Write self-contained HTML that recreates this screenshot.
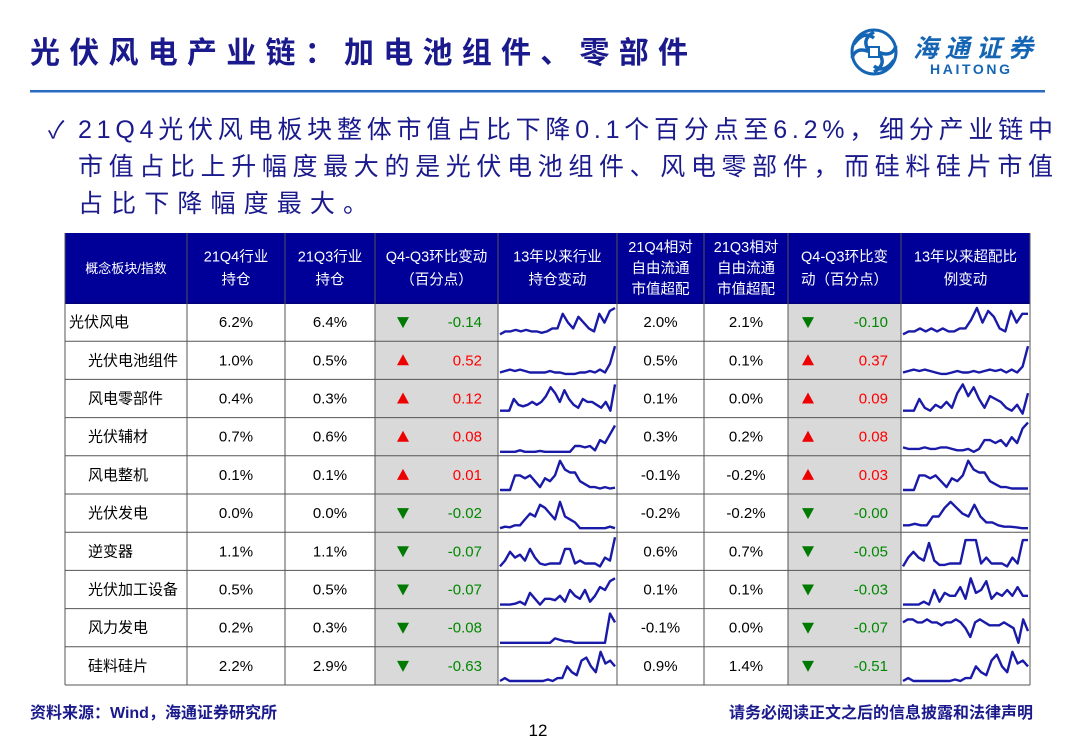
<!DOCTYPE html>
<html><head><meta charset="utf-8"><style>
body{margin:0;background:#fff;}
svg{display:block;font-family:"Liberation Sans","Noto Sans CJK SC",sans-serif;}
</style></head><body>
<svg id="s" width="1080" height="746" viewBox="0 0 1080 746">
<text x="30" y="63" font-size="30" font-weight="bold" fill="#1a1a8c" textLength="658">光伏风电产业链：加电池组件、零部件</text>
<g>
<circle cx="874" cy="52" r="22" fill="none" stroke="#1565b5" stroke-width="3"/>
<path d="M874 32 q-14 8 -4 20 q-14 -6 -18 6 M874 72 q14 -8 4 -20 q14 6 18 -6 M854 44 q10 -14 20 -6 M894 60 q-10 14 -20 6" fill="none" stroke="#1565b5" stroke-width="3.5"/>
<rect x="869" y="47" width="10" height="10" fill="#fff" stroke="#1565b5" stroke-width="2"/>
<text x="913" y="57" font-size="25" font-style="italic" font-weight="bold" fill="#1565b5" textLength="120">海通证券</text>
<text x="930" y="74" font-size="14" font-weight="bold" fill="#1565b5" textLength="80">HAITONG</text>
</g>
<rect x="30" y="90" width="1015" height="2.5" fill="#2a6ac0"/>
<g font-size="25" fill="#1a1a8c">
<text x="48" y="138" font-size="24">✓</text>
<text x="78" y="138" textLength="975">21Q4光伏风电板块整体市值占比下降0.1个百分点至6.2%，细分产业链中</text>
<text x="78" y="175" textLength="975">市值占比上升幅度最大的是光伏电池组件、风电零部件，而硅料硅片市值</text>
<text x="78" y="212" textLength="290">占比下降幅度最大。</text>
</g>
<g id="tbl"></g>
<text x="30" y="718" font-size="16" font-weight="bold" fill="#1a1a8c">资料来源：Wind，海通证券研究所</text>
<text x="538" y="736" font-size="17" text-anchor="middle" fill="#000">12</text>
<text x="1033" y="718" font-size="16" font-weight="bold" fill="#1a1a8c" text-anchor="end">请务必阅读正文之后的信息披露和法律声明</text>
</svg>
<script>
const headers=[["概念板块/指数"],["21Q4行业","持仓"],["21Q3行业","持仓"],["Q4-Q3环比变动","（百分点）"],["13年以来行业","持仓变动"],["21Q4相对","自由流通","市值超配"],["21Q3相对","自由流通","市值超配"],["Q4-Q3环比变","动（百分点）"],["13年以来超配比","例变动"]];
const names=["光伏风电","光伏电池组件","风电零部件","光伏辅材","风电整机","光伏发电","逆变器","光伏加工设备","风力发电","硅料硅片"];
const q4Hold=["6.2%","1.0%","0.4%","0.7%","0.1%","0.0%","1.1%","0.5%","0.2%","2.2%"];
const q3Hold=["6.4%","0.5%","0.3%","0.6%","0.1%","0.0%","1.1%","0.5%","0.3%","2.9%"];
const holdChg=[-0.14,0.52,0.12,0.08,0.01,-0.02,-0.07,-0.07,-0.08,-0.63];
const q4Over=["2.0%","0.5%","0.1%","0.3%","-0.1%","-0.2%","0.6%","0.1%","-0.1%","0.9%"];
const q3Over=["2.1%","0.1%","0.0%","0.2%","-0.2%","-0.2%","0.7%","0.1%","0.0%","1.4%"];
const overChg=["-0.10","0.37","0.09","0.08","0.03","-0.00","-0.05","-0.03","-0.07","-0.51"];
const holdSpark=[
[1,2,2,2.5,2,2.5,2,2,1.5,2,3,3,8,5,3,7,5,3,2,8,5,9,10],
[1,1.5,2,1.5,2,1.5,1,1,1,1,1.5,1,1,0.5,0.5,0.5,1,1,1.5,1,2,1,4,10],
[1,1,1,5,3,2.5,3,4,3,4,6,9,7,4,8,5,3,2,5,4,4,3,2,4,1,10],
[0,0,0,0,0.5,0,0,0,0.3,0,0,0,0,0,0,2,2,1.5,2,0.5,4,3,6,9],
[0,0,0,5,5,4,5,3,1,4,3,5,10,7,6,6,3,2,1,1,0.5,1,0.5,0.8],
[0,0.5,0.3,1,1,3,5,4,8,7,5,3,9,4,3,2,0,0,0,0,0,0,0.5,0],
[0,2,5,3,4,2,6,3,1,0.5,1,1,1,6,6,1,2,1,1,1,0,3,2,10],
[0,0,0,0.3,1,0,4,2,0,2,2,1.5,3,1,5,3,2,5,1,3,6,5,8,9],
[0,0,0,0,0,0,0,0,0,0,0,1.5,1,0.5,0.5,0,0,0,0,0,0,0,10,7],
[0,1,0,0,0,0,0,0,0,0,0.5,0,1,1,5,3,2,7,8,5,3,10,6,7,5]];
const overSpark=[
[1,2,2,3,2,3,2,3,2,2,3,3,6,10,5,9,7,3,2,9,5,8,8],
[1,1.5,2,1.5,2,1.5,1,0.5,0.5,1,1.5,1,1,1.5,1,1.5,2,1.5,2,1,2,1,3,10],
[1,1,1,5,2,1,3,2,4,2,7,10,6,9,5,2,6,5,4,2,1,3,0,7],
[1.5,1,1,1,1.5,1,1,1.5,1.5,1,0.5,0.5,1,0,1,4,4,3,4,2,5,3,8,10],
[0,0,0,5,5,4,5,3,1,4,3,5,10,7,6,6,3,2,1,1,0.5,0.5,0.5,0.5],
[1,1,1.5,1,1,4,4,7,9,7,5,4,8,4,2,2,1,0.5,0.5,0.3,0,0],
[0,3,5,3,2,8,2,0.5,0.5,1,1,1,9,9,9,1,3,1,1,1,0,3,1,9,9],
[0,0,0,0,1,0,5,1,4,3,3,6,2,9,4,5,8,2,4,3,5,3,6,3,3],
[7,8,8,7,7,8,7,7,6,7,7,8,7,5,2,7,8,7,6,6,6,7,6,5,0,8,4],
[0,1,0,0,0,0,0,0,0,0,0.5,0,1,1,5,3,2,7,9,5,3,10,6,7,5]];

const NS="http://www.w3.org/2000/svg";
const g=document.getElementById('tbl');
const cols=[65,187,285,375,498,617,704,788,901,1030];
const top0=233,hdrH=70,rowH=38.2;
function mk(t,a,p){const e=document.createElementNS(NS,t);for(const k in a)e.setAttribute(k,a[k]);(p||g).appendChild(e);return e;}
mk('rect',{x:65,y:top0,width:965,height:hdrH,fill:'#000099'});
const bodyTop=top0+hdrH,bodyBot=bodyTop+rowH*names.length;
mk('rect',{x:cols[3],y:bodyTop,width:cols[4]-cols[3],height:bodyBot-bodyTop,fill:'#d9d9d9'});
mk('rect',{x:cols[7],y:bodyTop,width:cols[8]-cols[7],height:bodyBot-bodyTop,fill:'#d9d9d9'});
headers.forEach((h,i)=>{const cx=(cols[i]+cols[i+1])/2;const lh=h.length==3?21:23;const y0=top0+hdrH/2-(h.length-1)*lh/2+5;
 h.forEach((l,j)=>{const t=mk('text',{x:cx,y:y0+j*lh,'text-anchor':'middle','font-size':i==0?13:14.5,fill:'#fff'});t.textContent=l;
 
 });});
for(let r=0;r<=names.length;r++){mk('line',{x1:65,x2:1030,y1:bodyTop+r*rowH,y2:bodyTop+r*rowH,stroke:'#555','stroke-width':1});}
mk('line',{x1:65,x2:1030,y1:bodyTop,y2:bodyTop,stroke:'#000080','stroke-width':2});
cols.forEach(x=>{mk('line',{x1:x,x2:x,y1:top0,y2:bodyBot,stroke:'#555','stroke-width':1});});
function spark(data,x0,x1,y,row){const sx=(x1-x0-4)/(data.length-1);const h=rowH-9;
 const pts=data.map((v,i)=>(x0+2+i*sx).toFixed(1)+','+(y+rowH-4-v/10*h).toFixed(1)).join(' ');
 const p=mk('polyline',{points:pts,fill:'none',stroke:'#1a1aa8','stroke-width':2.4,'stroke-linejoin':'round'});
 
 }
function tri(x,y,up){const p=mk('path',{d:up?`M${x-6} ${y+5}L${x+6} ${y+5}L${x} ${y-6}Z`:`M${x-6} ${y-5}L${x+6} ${y-5}L${x} ${y+6}Z`,fill:up?'#ee0000':'#007a00'});
 
 }
names.forEach((n,r)=>{const y=bodyTop+r*rowH;const ty=y+rowH/2+5;
 const t=mk('text',{x:r==0?69:88,y:ty,'font-size':15,fill:'#000'});t.textContent=n;
 
 
 [[1,q4Hold[r]],[2,q3Hold[r]],[5,q4Over[r]],[6,q3Over[r]]].forEach(([c,v])=>{const e=mk('text',{x:(cols[c]+cols[c+1])/2,y:ty,'text-anchor':'middle','font-size':15,fill:'#000'});e.textContent=v;
  
  });
 const hc=holdChg[r];tri(cols[3]+28,ty-5,hc>0);
 const e1=mk('text',{x:cols[4]-16,y:ty,'text-anchor':'end','font-size':15,fill:hc>0?'#ff0000':'#008800'});e1.textContent=hc.toFixed(2);
 
 
 const up=!overChg[r].startsWith('-');tri(cols[7]+20,ty-5,up);
 const e2=mk('text',{x:cols[8]-13,y:ty,'text-anchor':'end','font-size':15,fill:up?'#ff0000':'#008800'});e2.textContent=overChg[r];
 
 
 spark(holdSpark[r],cols[4],cols[5],y,r);
 spark(overSpark[r],cols[8],cols[9],y,r);
});
</script>
</body></html>
